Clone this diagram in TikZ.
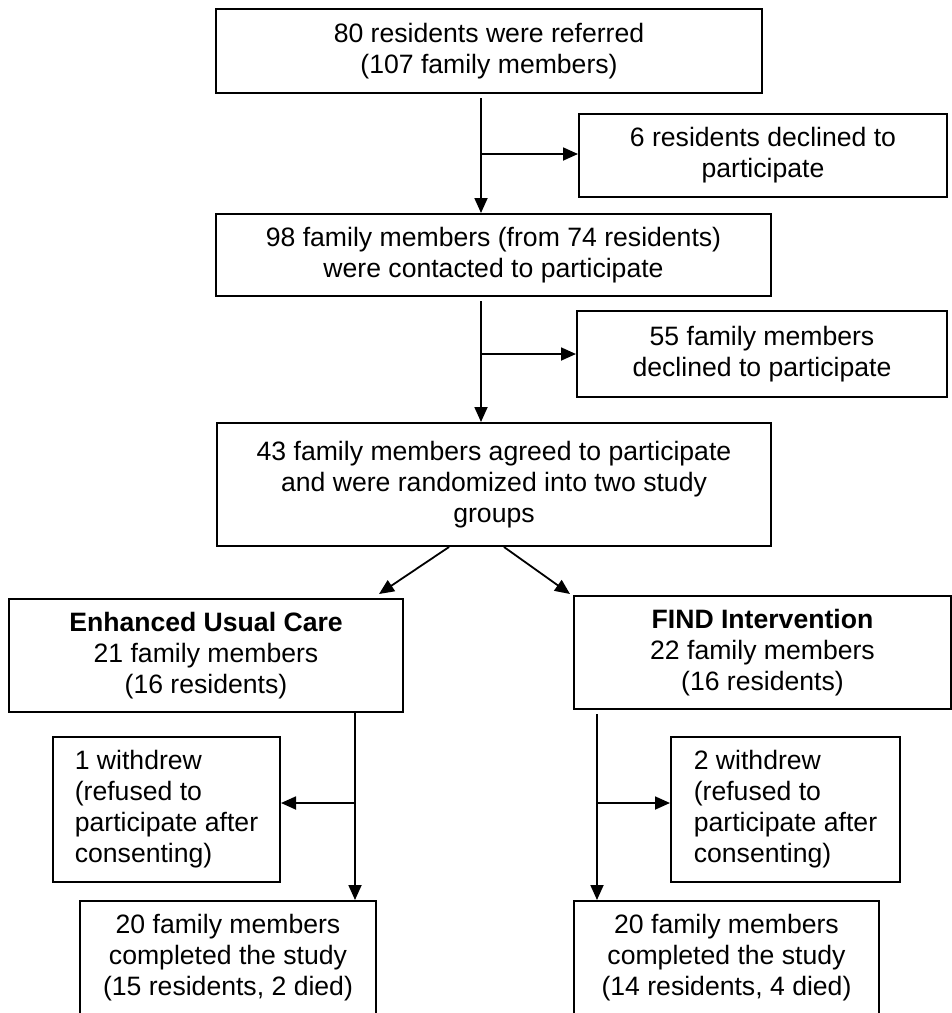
\documentclass[tikz,border=0pt]{standalone}
\usepackage{fontspec}
\setmainfont{Liberation Sans}
\usetikzlibrary{arrows.meta}
\begin{document}
\begin{tikzpicture}[x=1pt,y=-1pt,
  box/.style={draw, line width=2pt, inner sep=0pt, align=center, font=\fontsize{26.6}{31}\selectfont},
  lbox/.style={box, align=left},
  arr/.style={line width=1.8pt, -{Triangle[length=15pt,width=13pt]}}]
\useasboundingbox (0,0) rectangle (952,1013);
\fill[white] (0,0) rectangle (952,1013);
% nodes
\node[box, minimum width=546pt, minimum height=84pt] (b1) at (489,51) {80 residents were referred\\(107 family members)};
\node[box, minimum width=368pt, minimum height=83pt] (d1) at (763,155.5) {6 residents declined to\\participate};
\node[box, minimum width=555pt, minimum height=82pt] (b3) at (493.5,255) {98 family members (from 74 residents)\\were contacted to participate};
\node[box, minimum width=370pt, minimum height=86pt] (d2) at (762,354) {55 family members\\declined to participate};
\node[box, minimum width=554pt, minimum height=123pt] (b5) at (494,484.5) {43 family members agreed to participate\\and were randomized into two study\\groups};
\node[box, minimum width=394pt, minimum height=113pt] (euc) at (206,655.5) {\textbf{Enhanced Usual Care}\\21 family members\\(16 residents)};
\node[box, minimum width=377pt, minimum height=113pt] (find) at (762.5,652.5) {\textbf{FIND Intervention}\\22 family members\\(16 residents)};
\node[lbox, minimum width=227pt, minimum height=145pt] (w1) at (166.5,809.5) {1 withdrew\\(refused to\\participate after\\consenting)};
\node[lbox, minimum width=229pt, minimum height=145pt] (w2) at (785.5,809.5) {2 withdrew\\(refused to\\participate after\\consenting)};
\node[box, minimum width=296pt, minimum height=114pt] (c1) at (228,958) {20 family members\\completed the study\\(15 residents, 2 died)};
\node[box, minimum width=305pt, minimum height=114pt] (c2) at (726.5,958) {20 family members\\completed the study\\(14 residents, 4 died)};
% connectors
\coordinate (j1) at (481,154);
\draw[arr] ([yshift=-4pt]b1.south -| j1) -- (b3.north -| j1);
\draw[arr] (j1) -- (j1 -| d1.west);
\coordinate (j2) at (481,354);
\draw[arr] ([yshift=-4pt]b3.south -| j2) -- (b5.north -| j2);
\draw[arr] (j2) -- (j2 -| d2.west);
\draw[arr] ([xshift=-45pt]b5.south) -- ([xshift=-25pt,yshift=4pt]euc.north east);
\draw[arr] ([xshift=10pt]b5.south) -- ([xshift=-3pt,yshift=1pt]find.north west);
\coordinate (j3) at (355,803);
\draw[arr] (euc.south -| j3) -- (c1.north -| j3);
\draw[arr] (j3) -- (j3 -| w1.east);
\coordinate (j4) at (597,803);
\draw[arr] ([yshift=-4pt]find.south -| j4) -- (c2.north -| j4);
\draw[arr] (j4) -- (j4 -| w2.west);
\end{tikzpicture}
\end{document}
